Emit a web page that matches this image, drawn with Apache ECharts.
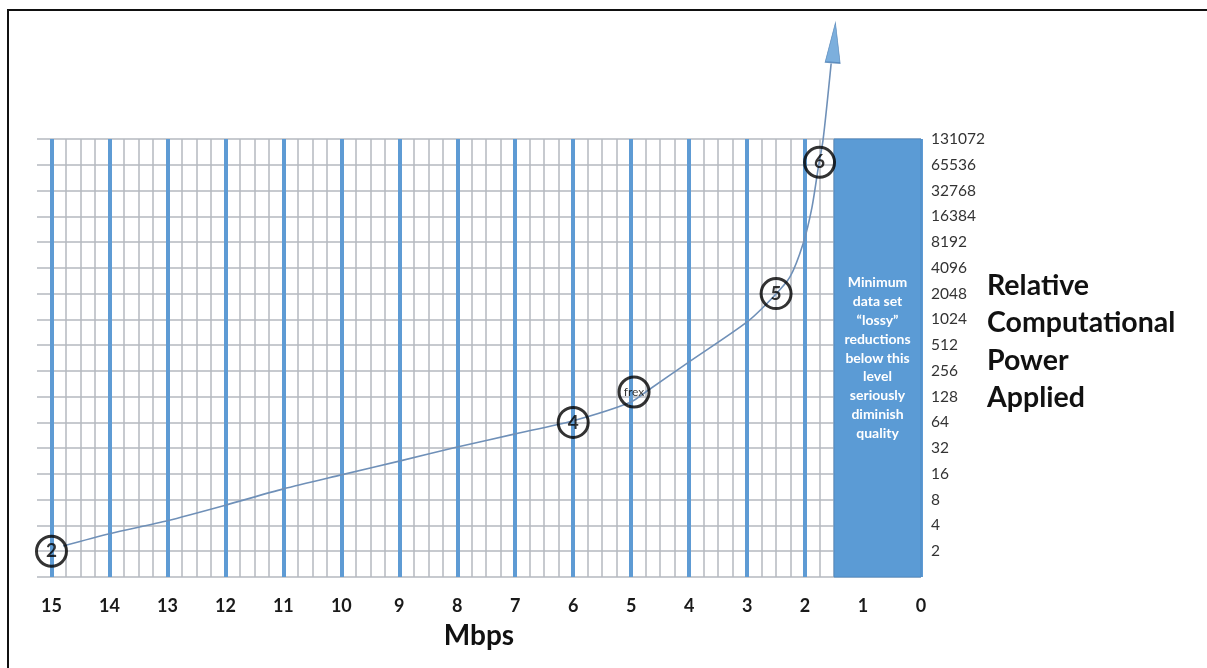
<!DOCTYPE html>
<html>
<head>
<meta charset="utf-8">
<script src="https://cdn.jsdelivr.net/npm/echarts@6/dist/echarts.min.js"></script>
<style>
html,body{margin:0;padding:0;background:#fff;}
#chart{width:1207px;height:668px;}
</style>
</head>
<body>
<div id="chart"></div>
<script>
// Curve: [Mbps, relative computational power]
const curveMbps  = [14.8, 14, 13, 12, 11, 10, 9, 8, 7, 6, 5, 4.7, 4, 3, 2.55, 2.26, 2.03, 1.88, 1.77, 1.69, 1.55];
const curvePower = [2.3, 3.2, 4.55, 6.9, 10.7, 15.6, 22.6, 33, 47, 67, 111, 153, 326, 955, 1870, 3210, 8000, 21000, 62000, 127000, 1000000];
// Arrow head tip
const arrowMbps = [1.5];
const arrowPower = [3000000];
// Circled annotations
const markerMbps  = [15, 6, 4.95, 2.5, 1.75];
const markerPower = [2, 64, 145, 2048, 70000];
const markerText  = ['2', '4', 'frex', '5', '6'];
// Minimum data set region (Mbps range)
const boxMbps = [1.5, 0];
const boxText = 'Minimum\ndata set\n\u201Clossy\u201D\nreductions\nbelow this\nlevel\nseriously\ndiminish\nquality';
const yTitle = 'Relative\nComputational\nPower\nApplied';
const xTitle = 'Mbps';

const FONT = 'Lato, "Open Sans", sans-serif';
const chart = echarts.init(document.getElementById('chart'), null, {renderer: 'canvas'});

const option = {
  backgroundColor: '#fff',
  animation: false,
  title: {
    text: yTitle,
    left: 987, top: 267, padding: 0,
    textStyle: {fontFamily: FONT, fontWeight: 'bold', fontSize: 28.5, lineHeight: 37.5, color: '#111'}
  },
  graphic: [{
    type: 'polyline',
    shape: {points: [[8, 668], [8, 10], [1207, 10]]},
    style: {stroke: '#111', lineWidth: 2, fill: null}
  }],
  grid: {left: 37, right: 286, top: 139, bottom: 91, containLabel: false},
  xAxis: [{
    type: 'value', inverse: true, min: 0, max: 15.25, interval: 0.25,
    axisLine: {show: false}, axisTick: {show: false},
    splitLine: {show: true, showMaxLine: false, lineStyle: {color: '#b5b9bf', width: 1.5}},
    axisLabel: {
      margin: 20, fontFamily: FONT, fontWeight: 'bold', fontSize: 18, color: '#1a1a1a',
      formatter: v => (Math.abs(v - Math.round(v)) < 1e-6 && v <= 15) ? String(Math.round(v)) : ''
    },
    name: xTitle, nameLocation: 'middle', nameGap: 45,
    nameTextStyle: {fontFamily: FONT, fontWeight: 'bold', fontSize: 28, color: '#111'}
  }, {
    type: 'value', inverse: true, min: 0, max: 15.25, interval: 1, position: 'bottom',
    axisLine: {show: false}, axisTick: {show: false}, axisLabel: {show: false},
    splitLine: {show: true, showMaxLine: false, lineStyle: {color: '#5e9bd4', width: 4}}
  }],
  yAxis: {
    type: 'log', logBase: 2, min: 1, max: 131072, interval: 1, position: 'right',
    axisLine: {show: false}, axisTick: {show: false},
    splitLine: {show: true, lineStyle: {color: '#b5b9bf', width: 1.5}},
    axisLabel: {
      margin: 10, fontFamily: FONT, fontSize: 15.5, color: '#333',
      formatter: v => { const r = Math.round(v); return r <= 1 ? '' : String(r); }
    }
  },
  series: [{
    type: 'line',
    xAxisIndex: 0,
    data: curveMbps.map((m, i) => [m, curvePower[i]]),
    smooth: 0.25,
    showSymbol: false,
    clip: false,
    lineStyle: {color: '#6f90b8', width: 1.6},
    z: 3,
    markArea: {
      silent: true,
      itemStyle: {color: '#5b9bd5', borderColor: '#4f8ac4', borderWidth: 1},
      label: {
        show: true, position: 'inside', color: '#fff', fontFamily: FONT,
        fontWeight: 'bold', fontSize: 14, lineHeight: 18.8, align: 'center'
      },
      data: [[{xAxis: boxMbps[0], yAxis: 1, name: boxText}, {xAxis: boxMbps[1], yAxis: 131072}]]
    }
  }, {
    type: 'scatter',
    xAxisIndex: 0,
    clip: false,
    data: arrowMbps.map((m, i) => [m, arrowPower[i]]),
    symbol: 'triangle',
    symbolSize: [15, 40],
    symbolOffset: [0, 20],
    symbolRotate: -4,
    itemStyle: {color: '#5b9bd5', borderColor: '#4a7db3', borderWidth: 1},
    z: 4
  }, {
    type: 'scatter',
    xAxisIndex: 0,
    clip: false,
    data: markerMbps.map((m, i) => ({
      value: [m, markerPower[i]], name: markerText[i],
      label: markerText[i].length > 1 ? {fontSize: 12, fontWeight: 'normal'} : {}
    })),
    symbol: 'circle',
    symbolSize: 30,
    itemStyle: {color: 'rgba(0,0,0,0)', borderColor: '#000', borderWidth: 3},
    label: {
      show: true, position: 'inside', formatter: p => p.name,
      fontFamily: FONT, fontWeight: 'bold', fontSize: 19, color: '#000'
    },
    z: 5
  }]
};
chart.setOption(option);
</script>
</body>
</html>
